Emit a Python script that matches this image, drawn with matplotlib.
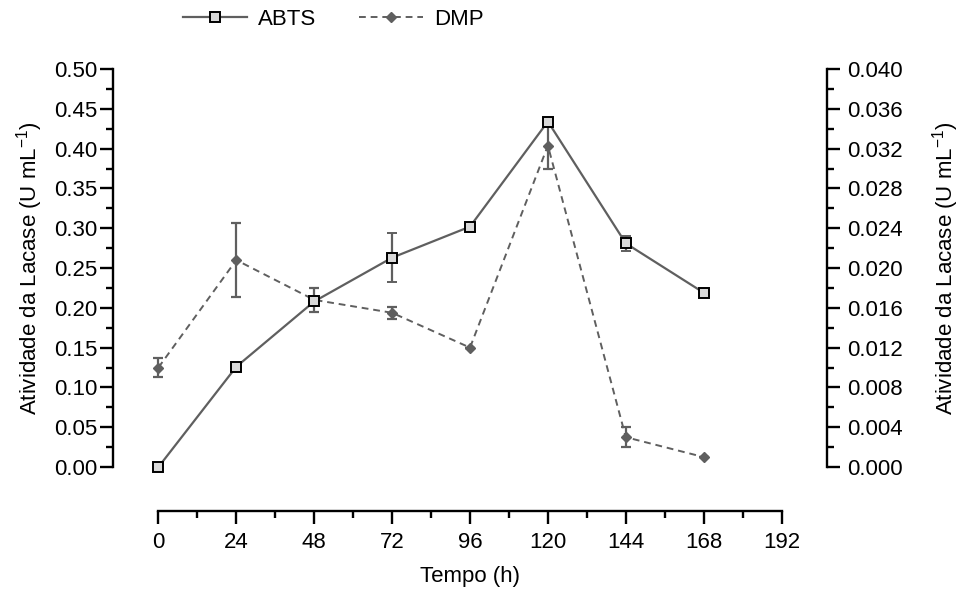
import numpy as np
import matplotlib
matplotlib.use("Agg")
import matplotlib.pyplot as plt
from matplotlib.lines import Line2D
from matplotlib.ticker import MultipleLocator, FixedLocator, FormatStrFormatter

plt.rcParams['font.family'] = ['Liberation Sans', 'DejaVu Sans']
plt.rcParams['mathtext.fontset'] = 'custom'
plt.rcParams['mathtext.rm'] = 'Liberation Sans'
fs = 16

# data
hours = [0, 24, 48, 72, 96, 120, 144, 168]
abts = [0.0, 0.126, 0.208, 0.263, 0.302, 0.434, 0.281, 0.219]
abts_err = [0.0, 0.0, 0.0, 0.031, 0.004, 0.0, 0.009, 0.0]
dmp = [0.0100, 0.0208, 0.0168, 0.0155, 0.0120, 0.0323, 0.0030, 0.0010]
dmp_err = [0.0010, 0.0037, 0.0012, 0.0006, 0.0, 0.0023, 0.0010, 0.0]

gray = '#5f5f5f'

fig = plt.figure(figsize=(9.64, 5.96), dpi=100)
ax = fig.add_axes([0.1172, 0.2164, 0.8579 - 0.1172, 0.8842 - 0.2164])
ax2 = ax.twinx()
ax.set_zorder(ax2.get_zorder() + 1)
ax.patch.set_visible(False)

abts_style = dict(color=gray, lw=1.6, marker='s', ms=6.5, mfc='#d9d9d9',
                  mec='black', mew=1.4)
dmp_style = dict(color=gray, lw=1.4, ls='--', dashes=(3.5, 2.5), marker='D',
                 ms=5, mfc=gray, mec=gray)

ax.errorbar(hours, abts, yerr=abts_err, capsize=3.5, elinewidth=1.6,
            capthick=1.6, ecolor=gray, clip_on=False, **abts_style)
ax2.errorbar(hours, dmp, yerr=dmp_err, capsize=3.5, elinewidth=1.6,
             capthick=1.6, ecolor=gray, clip_on=False, **dmp_style)

ax.set_xlim(-14, 206)
ax.set_ylim(0, 0.5)
ax2.set_ylim(0, 0.04)

for a in (ax, ax2):
    a.spines['top'].set_visible(False)
ax2.spines['bottom'].set_visible(False)
ax2.spines['left'].set_visible(False)
ax.spines['right'].set_visible(False)
ax.spines['bottom'].set_position(('outward', 31.7))
ax.spines['bottom'].set_bounds(0, 192)
for sp in list(ax.spines.values()) + list(ax2.spines.values()):
    sp.set_linewidth(1.7)

ax.xaxis.set_major_locator(FixedLocator(np.arange(0, 193, 24)))
ax.xaxis.set_minor_locator(FixedLocator(np.arange(12, 192, 24)))
ax.yaxis.set_major_locator(MultipleLocator(0.05))
ax.yaxis.set_minor_locator(MultipleLocator(0.025))
ax.yaxis.set_major_formatter(FormatStrFormatter('%.2f'))
ax2.yaxis.set_major_locator(MultipleLocator(0.004))
ax2.yaxis.set_minor_locator(MultipleLocator(0.002))
ax2.yaxis.set_major_formatter(FormatStrFormatter('%.3f'))

for a in (ax, ax2):
    a.tick_params(which='major', direction='out', length=9.4, width=1.7, labelsize=fs)
    a.tick_params(which='minor', direction='out', length=5.2, width=1.7)
ax.tick_params(axis='y', which='major', pad=2)
ax.tick_params(axis='x', which='major', pad=6)
ax2.tick_params(axis='y', which='major', pad=5)

ylab = 'Atividade da Lacase (U mL$^{\\mathregular{-1}}$)'
ax.set_xlabel('Tempo (h)', fontsize=fs, labelpad=9)
ax.set_ylabel(ylab, fontsize=fs, labelpad=6)
ax2.set_ylabel(ylab, fontsize=fs, labelpad=20)

handles = [Line2D([], [], **abts_style), Line2D([], [], **dmp_style)]
fig.legend(handles, ['ABTS', 'DMP'], loc='center left', bbox_to_anchor=(0.178, 0.968),
           ncol=2, frameon=False, handlelength=2.9, handletextpad=0.5,
           columnspacing=1.9, fontsize=fs, borderpad=0)

fig.savefig('out.png', dpi=100)
